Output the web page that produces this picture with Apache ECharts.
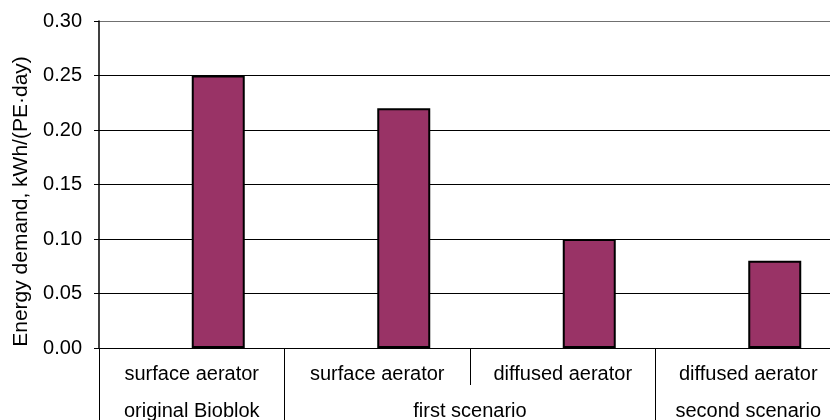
<!DOCTYPE html>
<html>
<head>
<meta charset="utf-8">
<script src="https://cdn.jsdelivr.net/npm/echarts@6/dist/echarts.min.js"></script>
<style>
html,body{margin:0;padding:0;background:#fff;overflow:hidden;width:830px;height:420px;}
#chart{width:841px;height:420px;}
</style>
</head>
<body>
<div id="chart"></div>
<script>
// ---- data ----
const categories = ['surface aerator', 'surface aerator', 'diffused aerator', 'diffused aerator'];
const groups = ['original Bioblok', 'first scenario', 'second scenario'];
const groupSpans = [1, 2, 1];
const values = [0.25, 0.22, 0.10, 0.08];
const emptySeries = [null, null, null, null];
const yMin = 0, yMax = 0.30, yStep = 0.05;
const yName = 'Energy demand, kWh/(PE\u00B7day)';

// build half-category points for group labels (boundaryGap false)
const halfPoints = new Array(categories.length * 2 + 1).fill('');
const boundaryIdx = new Set([0]);
let start = 0;
groups.forEach((g, i) => {
  halfPoints[start * 2 + groupSpans[i]] = g;
  start += groupSpans[i];
  boundaryIdx.add(start * 2);
});

const FONT = 'Liberation Sans, Arial, sans-serif';
const chart = echarts.init(document.getElementById('chart'), null, {renderer: 'canvas'});
chart.setOption({
  animation: false,
  backgroundColor: '#fff',
  grid: {left: 99, top: 21, bottom: 72, right: 0, containLabel: false, outerBoundsMode: 'none'},
  xAxis: [
    {
      type: 'category',
      data: categories,
      position: 'bottom',
      axisLine: {show: true, lineStyle: {color: '#000', width: 1}},
      axisTick: {show: true, length: 37, lineStyle: {color: '#000', width: 1}},
      axisLabel: {interval: 0, margin: 16, color: '#000', fontSize: 20, fontFamily: FONT},
      splitLine: {show: false}
    },
    {
      type: 'category',
      data: halfPoints,
      boundaryGap: false,
      position: 'bottom',
      offset: 0,
      axisLine: {show: false},
      axisTick: {show: true, length: 72, interval: (i) => boundaryIdx.has(i), lineStyle: {color: '#000', width: 1}},
      axisLabel: {interval: 0, margin: 53, color: '#000', fontSize: 20, fontFamily: FONT},
      splitLine: {show: false}
    }
  ],
  yAxis: {
    type: 'value',
    min: yMin, max: yMax, interval: yStep,
    name: yName,
    nameLocation: 'middle',
    nameGap: 67,
    nameTextStyle: {color: '#000', fontSize: 21, fontFamily: FONT, padding: [0, 34, 0, 0]},
    axisLine: {show: true, lineStyle: {color: '#000', width: 1.5}},
    axisTick: {show: true, length: 5, lineStyle: {color: '#000', width: 1}},
    axisLabel: {margin: 17, color: '#000', fontSize: 20, fontFamily: FONT, formatter: v => v.toFixed(2)},
    splitLine: {show: true, lineStyle: {color: ['#000', '#000', '#000', '#000', '#000', '#000', '#707070'], width: 1}}
  },
  series: [
    {
      type: 'bar', xAxisIndex: 0, data: emptySeries,
      barGap: '0%', barCategoryGap: '42.86%',
      itemStyle: {color: '#993366'}
    },
    {
      type: 'bar', xAxisIndex: 0, data: values,
      barGap: '0%', barCategoryGap: '42.86%',
      itemStyle: {color: '#993366', borderColor: '#000', borderWidth: 2}
    }
  ]
});
</script>
</body>
</html>
